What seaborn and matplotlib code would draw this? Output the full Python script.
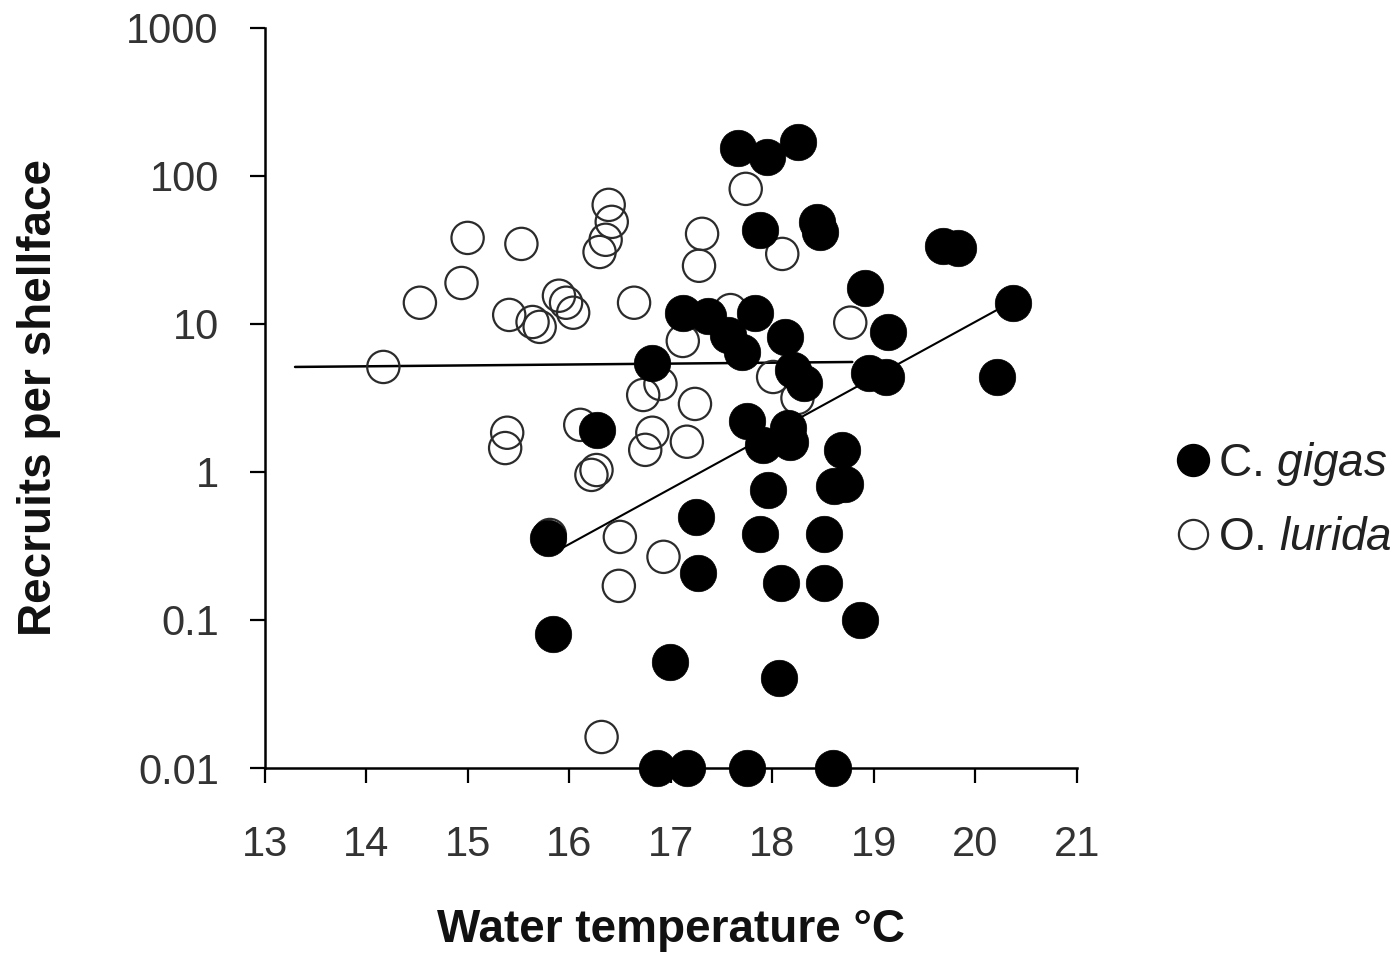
import numpy as np
import pandas as pd
import matplotlib
matplotlib.use("Agg")
import matplotlib.pyplot as plt
import seaborn as sns
from matplotlib.lines import Line2D
from matplotlib.ticker import FixedLocator, FixedFormatter, NullLocator

# ---------------- data ----------------
lurida_temp = [14.17, 14.53, 14.94, 15.00, 15.53, 15.41, 15.64, 15.71, 15.90, 15.97,
               16.04, 16.64, 16.39, 16.42, 16.36, 16.30, 17.74, 17.31, 17.28, 18.10,
               18.77, 17.12, 17.59, 16.90, 16.73, 17.24, 16.82, 16.75, 17.16, 18.01,
               18.25, 15.39, 15.37, 16.11, 16.27, 16.22, 15.81, 16.50, 16.93, 16.49,
               16.32]
lurida_recruits = [5.12, 13.9, 18.9, 38.1, 34.7, 11.5, 10.3, 9.55, 15.5, 13.9,
                   11.9, 13.9, 63.7, 48.9, 37.0, 30.6, 81.7, 40.6, 24.7, 29.7,
                   10.2, 7.67, 12.4, 3.93, 3.31, 2.88, 1.84, 1.41, 1.60, 4.38,
                   3.16, 1.84, 1.45, 2.08, 1.03, 0.955, 0.375, 0.364, 0.267, 0.170,
                   0.0162]

gigas_temp = [17.66, 17.95, 18.26, 17.88, 18.44, 18.47, 19.68, 19.83, 18.92, 19.14,
              20.37, 18.95, 19.12, 20.22, 17.12, 17.37, 17.57, 17.70, 17.83, 18.13,
              18.21, 18.31, 16.82, 17.75, 17.91, 18.16, 18.18, 18.69, 17.96, 18.61,
              18.72, 16.27, 15.79, 15.84, 17.25, 17.27, 17.88, 18.51, 18.09, 18.51,
              18.87, 16.99, 18.07, 16.87, 17.16, 17.75, 18.60]
gigas_recruits = [154.5, 134, 170, 43.2, 48.9, 41.9, 33.7, 32.6, 17.5, 8.83,
                  13.9, 4.67, 4.38, 4.38, 11.9, 11.3, 8.43, 6.47, 11.9, 8.17,
                  4.89, 3.99, 5.45, 2.21, 1.52, 1.98, 1.60, 1.41, 0.755, 0.803,
                  0.830, 1.92, 0.358, 0.0803, 0.497, 0.208, 0.381, 0.381, 0.178, 0.178,
                  0.100, 0.052, 0.0405, 0.01, 0.01, 0.01, 0.01]

# fitted trend lines (end points)
gigas_fit_temp = [15.82, 20.37]
gigas_fit_recruits = [0.278, 14.2]
lurida_fit_temp = [13.30, 18.79]
lurida_fit_recruits = [5.12, 5.53]

species_labels = [r"C. $\mathit{gigas}$", r"O. $\mathit{lurida}$"]
x_ticks = [13, 14, 15, 16, 17, 18, 19, 20, 21]
y_ticks = [0.01, 0.1, 1, 10, 100, 1000]
y_tick_labels = ["0.01", "0.1", "1", "10", "100", "1000"]
x_label = "Water temperature °C"
y_label = "Recruits per shellface"

# ---------------- style ----------------
sns.set_style("ticks")
plt.rcParams["font.family"] = ["Liberation Sans", "DejaVu Sans"]
plt.rcParams["mathtext.fontset"] = "custom"
plt.rcParams["mathtext.rm"] = "Liberation Sans"
plt.rcParams["mathtext.it"] = "Liberation Sans:italic"

fig = plt.figure(figsize=(14, 9.6), dpi=100)
ax = fig.add_axes([0.189, 0.2, 0.58, 0.771])

# trend lines (below the markers)
sns.lineplot(x=lurida_fit_temp, y=lurida_fit_recruits, ax=ax, color="black",
             linewidth=1.8, zorder=2, legend=False)
sns.lineplot(x=gigas_fit_temp, y=gigas_fit_recruits, ax=ax, color="black",
             linewidth=1.5, zorder=2, legend=False)

# O. lurida: open circles
sns.scatterplot(x=lurida_temp, y=lurida_recruits, ax=ax, s=540,
                facecolor="none", edgecolor="#2b2b2b", linewidth=1.6,
                clip_on=False, zorder=3, legend=False)
# C. gigas: filled circles
sns.scatterplot(x=gigas_temp, y=gigas_recruits, ax=ax, s=690,
                color="black", edgecolor="black", linewidth=0.5,
                clip_on=False, zorder=4, legend=False)

ax.set_yscale("log")
ax.set_xlim(13, 21)
ax.set_ylim(0.01, 1000)
ax.xaxis.set_major_locator(FixedLocator(x_ticks))
ax.set_xticklabels([str(t) for t in x_ticks])
ax.yaxis.set_major_locator(FixedLocator(y_ticks))
ax.yaxis.set_major_formatter(FixedFormatter(y_tick_labels))
ax.yaxis.set_minor_locator(NullLocator())
ax.xaxis.set_minor_locator(NullLocator())

sns.despine(ax=ax)
for side in ("left", "bottom"):
    ax.spines[side].set_linewidth(1.8)
    ax.spines[side].set_color("black")

ax.tick_params(axis="y", direction="out", length=11, width=1.6, pad=22,
               labelsize=30, labelcolor="#333333", color="black")
ax.tick_params(axis="x", direction="out", length=11, width=1.6, pad=30,
               labelsize=30, labelcolor="#333333", color="black")

ax.set_xlabel(x_label, fontsize=33, fontweight="bold", labelpad=31, color="#111111")
ax.set_ylabel(y_label, fontsize=33, fontweight="bold", labelpad=47, color="#111111")

handles = [
    Line2D([], [], marker="o", linestyle="none", markersize=23,
           markerfacecolor="black", markeredgecolor="black"),
    Line2D([], [], marker="o", linestyle="none", markersize=21,
           markerfacecolor="none", markeredgecolor="#2b2b2b", markeredgewidth=1.6),
]
fig.legend(handles, species_labels, loc="center left",
           bbox_to_anchor=(0.839, 0.479), frameon=False, fontsize=33,
           handlelength=0.8, handletextpad=0.15, labelspacing=0.6,
           borderpad=0, borderaxespad=0, labelcolor="#222222")

fig.savefig("out.png", dpi=100, facecolor="white")
